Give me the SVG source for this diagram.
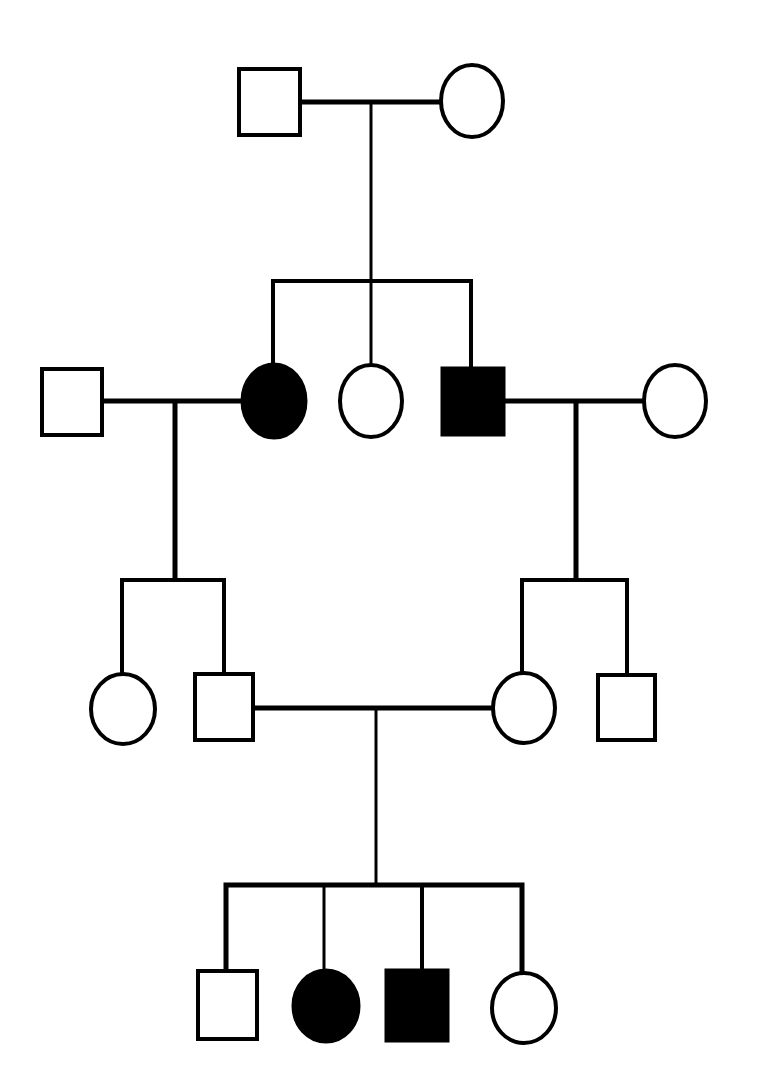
<svg xmlns="http://www.w3.org/2000/svg" width="764" height="1090" viewBox="0 0 764 1090">
<style>
.o{fill:#fff;stroke:#000;stroke-width:4}
.f{fill:#000;stroke:#000;stroke-width:3}
.l{stroke:#000;fill:none;stroke-linecap:butt}
</style>
<rect width="764" height="1090" fill="#fff"/>
<g id="connectors">
<line class="l" x1="301" y1="102" x2="441" y2="102" stroke-width="5"/>
<line class="l" x1="371" y1="102" x2="371" y2="281" stroke-width="3"/>
<polyline class="l" points="273,365 273,281 471,281 471,368" stroke-width="4"/>
<line class="l" x1="371" y1="281" x2="371" y2="364" stroke-width="3"/>
<line class="l" x1="102" y1="401" x2="242" y2="401" stroke-width="5"/>
<line class="l" x1="175" y1="401" x2="175" y2="580" stroke-width="5"/>
<polyline class="l" points="122,674 122,580 224,580 224,673" stroke-width="4"/>
<line class="l" x1="505" y1="401" x2="644" y2="401" stroke-width="5"/>
<line class="l" x1="576" y1="401" x2="576" y2="580" stroke-width="5"/>
<polyline class="l" points="522,673 522,580 627,580 627,674" stroke-width="4"/>
<line class="l" x1="254" y1="708" x2="492" y2="708" stroke-width="5"/>
<line class="l" x1="376" y1="708" x2="376" y2="885" stroke-width="3"/>
<polyline class="l" points="226,970 226,885 522,885 522,972" stroke-width="5"/>
<line class="l" x1="324" y1="885" x2="324" y2="969" stroke-width="3"/>
<line class="l" x1="422" y1="885" x2="422" y2="969" stroke-width="4"/>
</g>
<g id="gen1-father"><rect class="o" x="239" y="69" width="61" height="66"/></g>
<g id="gen1-mother"><ellipse class="o" cx="472" cy="101" rx="31" ry="36"/></g>
<g id="gen2-husband"><rect class="o" x="42" y="369" width="60" height="66"/></g>
<g id="gen2-affected-daughter"><ellipse class="f" cx="274" cy="401" rx="32" ry="37"/></g>
<g id="gen2-daughter"><ellipse class="o" cx="371" cy="401" rx="31" ry="36"/></g>
<g id="gen2-affected-son"><rect class="f" x="442" y="368" width="62" height="67"/></g>
<g id="gen2-wife"><ellipse class="o" cx="675" cy="401" rx="31" ry="36"/></g>
<g id="gen3-daughter-left"><ellipse class="o" cx="123" cy="709" rx="32" ry="35"/></g>
<g id="gen3-son-left"><rect class="o" x="195" y="674" width="58" height="66"/><line class="l" x1="195" y1="740" x2="253" y2="740" stroke-width="3"/></g>
<g id="gen3-daughter-right"><ellipse class="o" cx="524" cy="708" rx="31" ry="35"/></g>
<g id="gen3-son-right"><rect class="o" x="598" y="675" width="57" height="65"/><line class="l" x1="598" y1="740" x2="655" y2="740" stroke-width="3"/></g>
<g id="gen4-son"><rect class="o" x="198" y="971" width="59" height="68"/></g>
<g id="gen4-affected-daughter"><ellipse class="f" cx="326" cy="1006" rx="33" ry="36"/></g>
<g id="gen4-affected-son"><rect class="f" x="386" y="970" width="62" height="71"/></g>
<g id="gen4-daughter"><ellipse class="o" cx="524" cy="1008" rx="32" ry="35"/></g>
</svg>
